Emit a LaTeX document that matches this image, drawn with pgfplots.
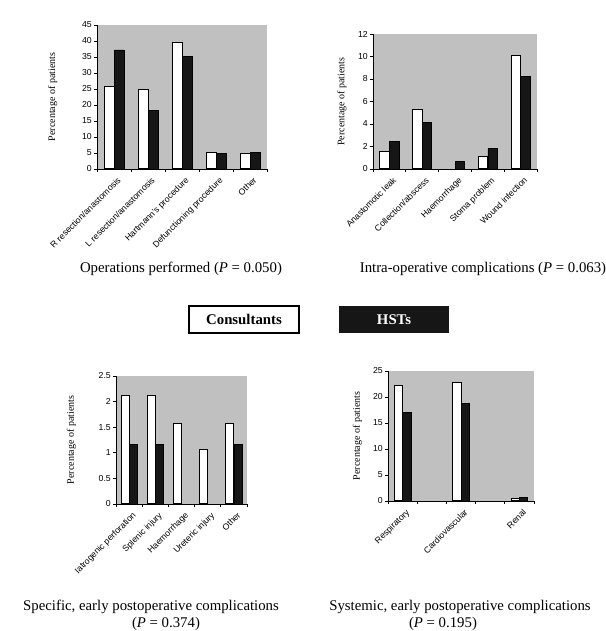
\documentclass[border=0pt]{standalone}
\usepackage{pgfplots}
\pgfplotsset{compat=1.18}
\usepackage{fontspec}
\setmainfont{Liberation Serif}
\setsansfont{Liberation Sans}
\definecolor{bggray}{RGB}{192,192,192}
\definecolor{barblack}{RGB}{22,22,22}
\newcommand{\sfs}{\sffamily\fontsize{8.7}{9}\selectfont}
\newcommand{\tfs}{\rmfamily\fontsize{14.8}{16}\selectfont}
\pgfplotsset{
  panel/.style={
    scale only axis,
    axis lines*=left,
    axis line style={-, line width=0.9pt},
    axis background/.style={fill=bggray},
    ybar=0pt,
    xmin=0, xmax=5, ymin=0,
    minor xtick={0,1,2,3,4,5},
    major x tick style={draw=none},
    minor x tick style={black, line width=0.7pt},
    ytick style={black, line width=0.7pt},
    tick align=outside,
    major tick length=3pt, minor tick length=3pt,
    xticklabel style={rotate=45, anchor=north east, font=\sfs, inner sep=1pt, yshift=-4pt},
    yticklabel style={font=\sfs, inner sep=2pt},
    /pgf/number format/assume math mode=true,
    ylabel={Percentage of patients},
    ylabel style={font=\sfs},
    clip=false,
  },
  wbar/.style={fill=white, draw=black, line width=1pt},
  kbar/.style={fill=barblack, draw=black, line width=0.6pt},
}
\begin{document}
\begin{tikzpicture}
\path[use as bounding box] (0pt,0pt) rectangle (605pt,631pt);

% Panel 1: Operations performed
\begin{axis}[panel, at={(97pt,462pt)}, anchor=south west,
  width=170pt, height=144pt, bar width=10pt,
  ymax=45, ytick={0,5,...,45},
  xtick={0.5,1.5,2.5,3.5,4.5},
  xticklabels={R resection/anastomosis, L resection/anastomosis, Hartmann's procedure, Defunctioning procedure, Other},
  every axis y label/.style={at={(axis description cs:-0.26,0.5)}, rotate=90, anchor=center}]
\addplot[wbar] coordinates {(0.5,25.8) (1.5,24.7) (2.5,39.5) (3.5,5.3) (4.5,4.8)};
\addplot[kbar] coordinates {(0.5,37.2) (1.5,18.2) (2.5,35.1) (3.5,4.9) (4.5,5.3)};
\end{axis}

% Panel 2: Intra-operative complications
\begin{axis}[panel, at={(373pt,462pt)}, anchor=south west,
  width=164pt, height=135pt, bar width=9.5pt,
  ymax=12, ytick={0,2,...,12},
  xtick={0.5,1.5,2.5,3.5,4.5},
  xticklabels={Anastomotic leak, Collection/abscess, Haemorrhage, Stoma problem, Wound infection},
  every axis y label/.style={at={(axis description cs:-0.19,0.5)}, rotate=90, anchor=center}]
\addplot[wbar] coordinates {(0.5,1.57) (1.5,5.3) (3.5,1.07) (4.5,10.06)};
\addplot[kbar] coordinates {(0.5,2.43) (1.5,4.14) (2.5,0.65) (3.5,1.8) (4.5,8.2)};
\end{axis}

% Panel 3: Specific, early postoperative complications
\begin{axis}[panel, at={(116pt,127pt)}, anchor=south west,
  width=131pt, height=128pt, bar width=8pt,
  ymax=2.5, ytick={0,0.5,...,2.5},
  yticklabel style={/pgf/number format/fixed},
  xtick={0.5,1.5,2.5,3.5,4.5},
  xticklabels={Iatrogenic perforation, Splenic injury, Haemorrhage, Ureteric injury, Other},
  every axis y label/.style={at={(axis description cs:-0.34,0.5)}, rotate=90, anchor=center}]
\addplot[wbar] coordinates {(0.5,2.12) (1.5,2.12) (2.5,1.58) (3.5,1.06) (4.5,1.58)};
\addplot[kbar] coordinates {(0.5,1.17) (1.5,1.17) (4.5,1.17)};
\end{axis}

% Panel 4: Systemic, early postoperative complications
\begin{axis}[panel, at={(388pt,130pt)}, anchor=south west,
  width=146pt, height=130pt, bar width=8.3pt,
  ymax=25, ytick={0,5,...,25},
  xtick={0.5,2.5,4.5},
  xticklabels={Respiratory, Cardiovascular, Renal},
  every axis y label/.style={at={(axis description cs:-0.21,0.5)}, rotate=90, anchor=center}]
\addplot[wbar] coordinates {(0.5,22.2) (2.5,22.7) (4.5,0.5)};
\addplot[kbar] coordinates {(0.5,17.0) (2.5,18.7) (4.5,0.65)};
\end{axis}

% Titles
\node[anchor=base, font=\tfs] at (181pt,358pt) {Operations performed (\textit{P} = 0.050)};
\node[anchor=base, font=\tfs] at (483pt,358pt) {Intra-operative complications (\textit{P} = 0.063)};
\node[anchor=base, font=\tfs] at (151pt,20pt) {Specific, early postoperative complications};
\node[anchor=base, font=\tfs] at (166pt,4pt) {(\textit{P} = 0.374)};
\node[anchor=base, font=\tfs] at (460pt,20pt) {Systemic, early postoperative complications};
\node[anchor=base, font=\tfs] at (443pt,4pt) {(\textit{P} = 0.195)};

% Legend
\draw[line width=1.3pt, fill=white] (189pt,298pt) rectangle (299pt,325pt);
\node[font=\rmfamily\bfseries\fontsize{14.8}{16}\selectfont] at (244pt,311.5pt) {Consultants};
\fill[barblack] (339pt,298pt) rectangle (449pt,325pt);
\node[font=\rmfamily\bfseries\fontsize{14.8}{16}\selectfont, text=white] at (394pt,311.5pt) {HSTs};
\end{tikzpicture}
\end{document}
